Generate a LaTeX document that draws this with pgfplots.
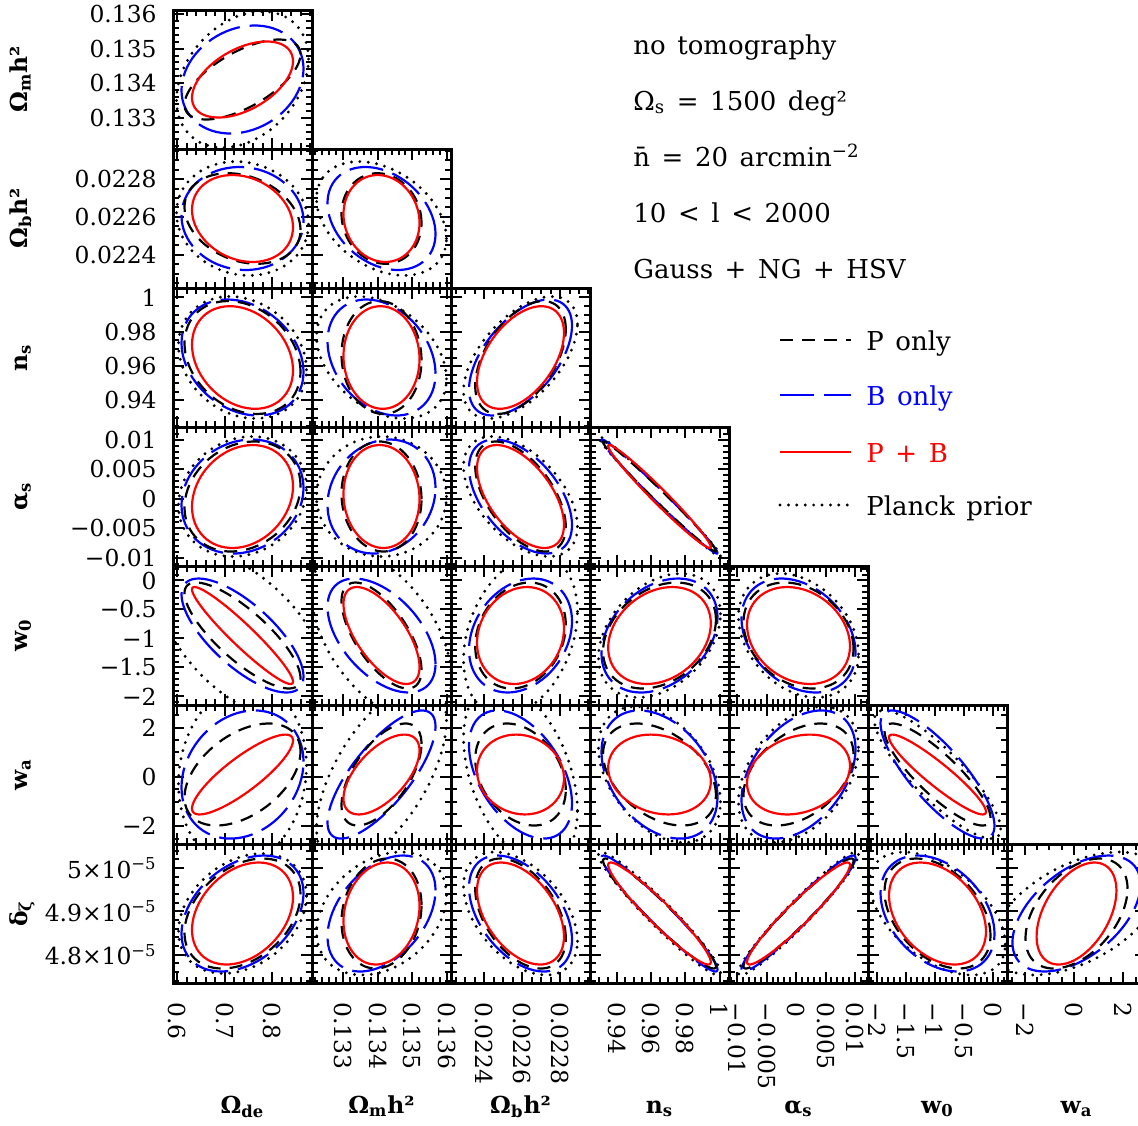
\documentclass[border=0pt]{standalone}
\usepackage{fontspec}
\setmainfont[WordSpace=1.4]{DejaVu Serif}
\usepackage{pgfplots}
\pgfplotsset{compat=1.18}

\newcommand\tl{\fontsize{11.7}{13}\selectfont}
\newcommand\lb{\fontsize{11.7}{13}\selectfont\bfseries}
\newcommand\tx{\fontsize{13}{15}\selectfont}

\tikzset{
  pK/.style={black, line width=1.1pt, dash pattern=on 6.5pt off 4.5pt},
  pB/.style={blue, line width=1.1pt, dash pattern=on 17pt off 5pt},
  pR/.style={red, line width=1.1pt},
  pD/.style={black, line width=1.6pt, line cap=round, dash pattern=on 0pt off 4.2pt},
  txt/.style={anchor=base west, inner sep=0pt, font=\tx},
}

% ellipse: style, centre x, centre y, half width, half height, correlation
\newcommand{\E}[6]{\addplot[#1] ({#2+#4*cos(x)},{#3+#5*((#6)*cos(x)+sqrt(1-(#6)^2)*sin(x))});}

\pgfplotsset{
  panel/.style={
    scale only axis, width=69.5pt, height=69.5pt, anchor=north west,
    axis line style={line width=1.5pt},
    tick align=inside, major tick length=5.5pt, minor tick length=3pt,
    tick style={line width=1pt, black},
    scaled ticks=false,
    xticklabels={}, yticklabels={},
    xticklabel style={rotate=-90, anchor=west, inner xsep=9.5pt, inner ysep=0pt, font=\tl},
    yticklabel style={anchor=east, inner xsep=8pt, inner ysep=0pt, font=\tl},
    domain=0:360, samples=73,
  },
  xOD/.style={xmin=0.5912, xmax=0.8838, xtick={0.6,0.7,0.8}, minor xtick={0.6,0.62,...,0.881}},
  xOM/.style={xmin=0.13211, xmax=0.13611, xtick={0.133,0.134,0.135,0.136},
    minor xtick={0.1322,0.1324,0.1326,0.1328,0.133,0.1332,0.1334,0.1336,0.1338,0.134,0.1342,0.1344,0.1346,0.1348,0.135,0.1352,0.1354,0.1356,0.1358,0.136}},
  yOM/.style={ymin=0.13211, ymax=0.13611, ytick={0.133,0.134,0.135,0.136},
    minor ytick={0.1322,0.1324,0.1326,0.1328,0.133,0.1332,0.1334,0.1336,0.1338,0.134,0.1342,0.1344,0.1346,0.1348,0.135,0.1352,0.1354,0.1356,0.1358,0.136}},
  xOB/.style={xmin=0.022226, xmax=0.022958, xtick={0.0224,0.0226,0.0228},
    minor xtick={0.02225,0.0223,0.02235,0.0224,0.02245,0.0225,0.02255,0.0226,0.02265,0.0227,0.02275,0.0228,0.02285,0.0229,0.02295}},
  yOB/.style={ymin=0.022226, ymax=0.022958, ytick={0.0224,0.0226,0.0228},
    minor ytick={0.02225,0.0223,0.02235,0.0224,0.02245,0.0225,0.02255,0.0226,0.02265,0.0227,0.02275,0.0228,0.02285,0.0229,0.02295}},
  xNS/.style={xmin=0.9245, xmax=1.0055, xtick={0.94,0.96,0.98,1}, minor xtick={0.925,0.93,...,1.0051}},
  yNS/.style={ymin=0.9245, ymax=1.0055, ytick={0.94,0.96,0.98,1}, minor ytick={0.925,0.93,...,1.0051}},
  xAS/.style={xmin=-0.0114, xmax=0.0122, xtick={-0.01,-0.005,0,0.005,0.01},
    minor xtick={-0.011,-0.01,-0.009,-0.008,-0.007,-0.006,-0.005,-0.004,-0.003,-0.002,-0.001,0,0.001,0.002,0.003,0.004,0.005,0.006,0.007,0.008,0.009,0.01,0.011,0.012}},
  yAS/.style={ymin=-0.0114, ymax=0.0122, ytick={-0.01,-0.005,0,0.005,0.01},
    minor ytick={-0.011,-0.01,-0.009,-0.008,-0.007,-0.006,-0.005,-0.004,-0.003,-0.002,-0.001,0,0.001,0.002,0.003,0.004,0.005,0.006,0.007,0.008,0.009,0.01,0.011,0.012}},
  xW0/.style={xmin=-2.15, xmax=0.25, xtick={-2,-1.5,-1,-0.5,0}, minor xtick={-2.1,-2,...,0.21}},
  yW0/.style={ymin=-2.15, ymax=0.25, ytick={-2,-1.5,-1,-0.5,0}, minor ytick={-2.1,-2,...,0.21}},
  xWA/.style={xmin=-2.72, xmax=2.92, xtick={-2,0,2}, minor xtick={-2.5,-2,...,2.51}},
  yWA/.style={ymin=-2.72, ymax=2.92, ytick={-2,0,2}, minor ytick={-2.5,-2,...,2.51}},
  yDZ/.style={ymin=4.735, ymax=5.055, ytick={4.8,4.9,5}, minor ytick={4.74,4.76,...,5.041}},
}

\begin{document}
\begin{tikzpicture}

% ---- row 1: Omega_m h^2
\begin{axis}[panel, at={(86.5pt,-5pt)}, xOD, yOM, yticklabels={0.133,0.134,0.135,0.136}]
\E{pD}{0.7375}{0.13411}{0.139}{0.00196}{0.3}
\E{pB}{0.7375}{0.13411}{0.1284}{0.001554}{0.2}
\E{pK}{0.7375}{0.13411}{0.1221}{0.001151}{0.63}
\E{pR}{0.7375}{0.13411}{0.1063}{0.001094}{0.48}
\end{axis}

% ---- row 2: Omega_b h^2
\begin{axis}[panel, at={(86.5pt,-74.5pt)}, xOD, yOB, yticklabels={0.0224,0.0226,0.0228}]
\E{pD}{0.7375}{0.022592}{0.139}{0.0003}{-0.1}
\E{pB}{0.7375}{0.022592}{0.1284}{0.0002712}{-0.05}
\E{pK}{0.7375}{0.022592}{0.1221}{0.0002385}{-0.25}
\E{pR}{0.7375}{0.022592}{0.1063}{0.000229}{-0.2}
\end{axis}
\begin{axis}[panel, at={(156pt,-74.5pt)}, xOM, yOB]
\E{pD}{0.13411}{0.022592}{0.00187}{0.0003}{-0.35}
\E{pB}{0.13411}{0.022592}{0.001554}{0.0002712}{-0.3}
\E{pK}{0.13411}{0.022592}{0.001151}{0.0002385}{-0.1}
\E{pR}{0.13411}{0.022592}{0.001094}{0.000229}{-0.1}
\end{axis}

% ---- row 3: n_s
\begin{axis}[panel, at={(86.5pt,-144pt)}, xOD, yNS, yticklabels={0.94,0.96,0.98,1}]
\E{pD}{0.7375}{0.965}{0.1347}{0.03555}{-0.2}
\E{pB}{0.7375}{0.965}{0.1284}{0.0338}{-0.25}
\E{pK}{0.7375}{0.965}{0.1221}{0.0329}{-0.25}
\E{pR}{0.7375}{0.965}{0.1063}{0.0299}{-0.25}
\end{axis}
\begin{axis}[panel, at={(156pt,-144pt)}, xOM, yNS]
\E{pD}{0.13411}{0.965}{0.00187}{0.03555}{-0.35}
\E{pB}{0.13411}{0.965}{0.001554}{0.0338}{-0.28}
\E{pK}{0.13411}{0.965}{0.001151}{0.0329}{-0.05}
\E{pR}{0.13411}{0.965}{0.001094}{0.0299}{-0.03}
\end{axis}
\begin{axis}[panel, at={(225.5pt,-144pt)}, xOB, yNS]
\E{pD}{0.022592}{0.965}{0.0003}{0.03555}{0.55}
\E{pB}{0.022592}{0.965}{0.0002712}{0.0338}{0.55}
\E{pK}{0.022592}{0.965}{0.0002385}{0.0329}{0.5}
\E{pR}{0.022592}{0.965}{0.000229}{0.0299}{0.48}
\end{axis}

% ---- row 4: alpha_s
\begin{axis}[panel, at={(86.5pt,-213.5pt)}, xOD, yAS, yticklabels={−0.01,−0.005,0,0.005,0.01}]
\E{pD}{0.7375}{0.0004}{0.1347}{0.01019}{0.15}
\E{pB}{0.7375}{0.0004}{0.1284}{0.00968}{0.15}
\E{pK}{0.7375}{0.0004}{0.1221}{0.00934}{0.2}
\E{pR}{0.7375}{0.0004}{0.1063}{0.00874}{0.2}
\end{axis}
\begin{axis}[panel, at={(156pt,-213.5pt)}, xOM, yAS]
\E{pD}{0.13411}{0.0004}{0.00187}{0.01019}{0}
\E{pB}{0.13411}{0.0004}{0.001554}{0.00968}{0.15}
\E{pK}{0.13411}{0.0004}{0.001151}{0.00934}{-0.05}
\E{pR}{0.13411}{0.0004}{0.001094}{0.00874}{-0.05}
\end{axis}
\begin{axis}[panel, at={(225.5pt,-213.5pt)}, xOB, yAS]
\E{pD}{0.022592}{0.0004}{0.0003}{0.01019}{-0.5}
\E{pB}{0.022592}{0.0004}{0.0002712}{0.00968}{-0.5}
\E{pK}{0.022592}{0.0004}{0.0002385}{0.00934}{-0.55}
\E{pR}{0.022592}{0.0004}{0.000229}{0.00874}{-0.55}
\end{axis}
\begin{axis}[panel, at={(295pt,-213.5pt)}, xNS, yAS]
\E{pD}{0.965}{0.0004}{0.03555}{0.01019}{-0.99}
\E{pB}{0.965}{0.0004}{0.0338}{0.00968}{-0.99}
\E{pK}{0.965}{0.0004}{0.0329}{0.00934}{-0.99}
\E{pR}{0.965}{0.0004}{0.0299}{0.00874}{-0.98}
\end{axis}

% ---- row 5: w_0
\begin{axis}[panel, at={(86.5pt,-283pt)}, xOD, yW0, yticklabels={−2,−1.5,−1,−0.5,0}]
\E{pD}{0.7375}{-0.95}{0.179}{1.47}{-0.55}
\E{pB}{0.7375}{-0.95}{0.1284}{0.984}{-0.72}
\E{pK}{0.7375}{-0.95}{0.1221}{0.915}{-0.8}
\E{pR}{0.7375}{-0.95}{0.1063}{0.837}{-0.95}
\end{axis}
\begin{axis}[panel, at={(156pt,-283pt)}, xOM, yW0]
\E{pD}{0.13411}{-0.95}{0.002015}{1.47}{-0.5}
\E{pB}{0.13411}{-0.95}{0.001554}{0.984}{-0.5}
\E{pK}{0.13411}{-0.95}{0.001151}{0.915}{-0.65}
\E{pR}{0.13411}{-0.95}{0.001094}{0.837}{-0.65}
\end{axis}
\begin{axis}[panel, at={(225.5pt,-283pt)}, xOB, yW0]
\E{pD}{0.022592}{-0.95}{0.0003}{1.38}{0.3}
\E{pB}{0.022592}{-0.95}{0.0002712}{0.984}{0.25}
\E{pK}{0.022592}{-0.95}{0.0002385}{0.915}{0.2}
\E{pR}{0.022592}{-0.95}{0.000229}{0.837}{0.15}
\end{axis}
\begin{axis}[panel, at={(295pt,-283pt)}, xNS, yW0]
\E{pD}{0.965}{-0.95}{0.03555}{1.07}{0.35}
\E{pB}{0.965}{-0.95}{0.0338}{0.984}{0.32}
\E{pK}{0.965}{-0.95}{0.0329}{0.915}{0.3}
\E{pR}{0.965}{-0.95}{0.0299}{0.837}{0.25}
\end{axis}
\begin{axis}[panel, at={(364.5pt,-283pt)}, xAS, yW0]
\E{pD}{0.0004}{-0.95}{0.01019}{1.07}{-0.3}
\E{pB}{0.0004}{-0.95}{0.00968}{0.984}{-0.3}
\E{pK}{0.0004}{-0.95}{0.00934}{0.915}{-0.25}
\E{pR}{0.0004}{-0.95}{0.00874}{0.837}{-0.22}
\end{axis}

% ---- row 6: w_a
\begin{axis}[panel, at={(86.5pt,-352.5pt)}, xOD, yWA, yticklabels={−2,0,2}]
\E{pD}{0.7375}{0.1}{0.1347}{3.65}{0.1}
\E{pB}{0.7375}{0.1}{0.1284}{2.6}{0.2}
\E{pK}{0.7375}{0.1}{0.1221}{2.07}{0.45}
\E{pR}{0.7375}{0.1}{0.1063}{1.62}{0.85}
\end{axis}
\begin{axis}[panel, at={(156pt,-352.5pt)}, xOM, yWA]
\E{pD}{0.13411}{0.1}{0.00187}{3.65}{0.6}
\E{pB}{0.13411}{0.1}{0.001554}{2.6}{0.75}
\E{pK}{0.13411}{0.1}{0.001151}{2.07}{0.6}
\E{pR}{0.13411}{0.1}{0.001094}{1.62}{0.6}
\end{axis}
\begin{axis}[panel, at={(225.5pt,-352.5pt)}, xOB, yWA]
\E{pD}{0.022592}{0.1}{0.0003}{3.65}{-0.4}
\E{pB}{0.022592}{0.1}{0.0002712}{2.6}{-0.45}
\E{pK}{0.022592}{0.1}{0.0002385}{2.07}{-0.3}
\E{pR}{0.022592}{0.1}{0.000229}{1.62}{-0.1}
\end{axis}
\begin{axis}[panel, at={(295pt,-352.5pt)}, xNS, yWA]
\E{pD}{0.965}{0.1}{0.03555}{2.76}{-0.4}
\E{pB}{0.965}{0.1}{0.0338}{2.6}{-0.35}
\E{pK}{0.965}{0.1}{0.0329}{2.07}{-0.4}
\E{pR}{0.965}{0.1}{0.0299}{1.62}{-0.17}
\end{axis}
\begin{axis}[panel, at={(364.5pt,-352.5pt)}, xAS, yWA]
\E{pD}{0.0004}{0.1}{0.01019}{2.76}{0.4}
\E{pB}{0.0004}{0.1}{0.00968}{2.6}{0.4}
\E{pK}{0.0004}{0.1}{0.00934}{2.07}{0.4}
\E{pR}{0.0004}{0.1}{0.00874}{1.62}{0.22}
\end{axis}
\begin{axis}[panel, at={(434pt,-352.5pt)}, xW0, yWA]
\E{pD}{-0.95}{0.1}{1.09}{2.6}{-0.85}
\E{pB}{-0.95}{0.1}{0.984}{2.6}{-0.8}
\E{pK}{-0.95}{0.1}{0.915}{2.07}{-0.85}
\E{pR}{-0.95}{0.1}{0.837}{1.62}{-0.93}
\end{axis}

% ---- row 7: delta_zeta (in units of 1e-5)
\begin{axis}[panel, at={(86.5pt,-422pt)}, xOD, yDZ, xticklabels={0.6,0.7,0.8},
  yticklabels={4.8×10\textsuperscript{−5},4.9×10\textsuperscript{−5},5×10\textsuperscript{−5}}]
\E{pD}{0.7375}{4.895}{0.1347}{0.138}{0.3}
\E{pB}{0.7375}{4.895}{0.1284}{0.1335}{0.35}
\E{pK}{0.7375}{4.895}{0.1221}{0.1266}{0.35}
\E{pR}{0.7375}{4.895}{0.1063}{0.1174}{0.32}
\end{axis}
\begin{axis}[panel, at={(156pt,-422pt)}, xOM, yDZ, xticklabels={0.133,0.134,0.135,0.136}]
\E{pD}{0.13411}{4.895}{0.00187}{0.1416}{0.3}
\E{pB}{0.13411}{4.895}{0.001554}{0.1335}{0.4}
\E{pK}{0.13411}{4.895}{0.001151}{0.1266}{0.15}
\E{pR}{0.13411}{4.895}{0.001094}{0.1174}{0.15}
\end{axis}
\begin{axis}[panel, at={(225.5pt,-422pt)}, xOB, yDZ, xticklabels={0.0224,0.0226,0.0228}]
\E{pD}{0.022592}{4.895}{0.0003}{0.1416}{-0.45}
\E{pB}{0.022592}{4.895}{0.0002712}{0.1335}{-0.45}
\E{pK}{0.022592}{4.895}{0.0002385}{0.1266}{-0.45}
\E{pR}{0.022592}{4.895}{0.000229}{0.1174}{-0.45}
\end{axis}
\begin{axis}[panel, at={(295pt,-422pt)}, xNS, yDZ, xticklabels={0.94,0.96,0.98,1}]
\E{pD}{0.965}{4.895}{0.03555}{0.1416}{-0.96}
\E{pB}{0.965}{4.895}{0.0338}{0.1335}{-0.965}
\E{pK}{0.965}{4.895}{0.0329}{0.1266}{-0.96}
\E{pR}{0.965}{4.895}{0.0299}{0.1174}{-0.95}
\end{axis}
\begin{axis}[panel, at={(364.5pt,-422pt)}, xAS, yDZ, xticklabels={−0.01,−0.005,0,0.005,0.01}]
\E{pD}{0.0004}{4.895}{0.01019}{0.1416}{0.96}
\E{pB}{0.0004}{4.895}{0.00968}{0.1335}{0.96}
\E{pK}{0.0004}{4.895}{0.00934}{0.1266}{0.96}
\E{pR}{0.0004}{4.895}{0.00874}{0.1174}{0.95}
\end{axis}
\begin{axis}[panel, at={(434pt,-422pt)}, xW0, yDZ, xticklabels={−2,−1.5,−1,−0.5,0}]
\E{pD}{-0.95}{4.895}{1.17}{0.1416}{-0.5}
\E{pB}{-0.95}{4.895}{0.984}{0.1335}{-0.35}
\E{pK}{-0.95}{4.895}{0.915}{0.1266}{-0.4}
\E{pR}{-0.95}{4.895}{0.837}{0.1174}{-0.35}
\end{axis}
\begin{axis}[panel, at={(503.5pt,-422pt)}, xWA, yDZ, xticklabels={−2,0,2}]
\E{pD}{0.1}{4.895}{3.45}{0.1416}{0.5}
\E{pB}{0.1}{4.895}{2.6}{0.1335}{0.5}
\E{pK}{0.1}{4.895}{2.07}{0.1266}{0.45}
\E{pR}{0.1}{4.895}{1.62}{0.1174}{0.45}
\end{axis}

% ---- row labels
\node[rotate=90, anchor=base, font=\lb] at (13.5pt,-39.75pt) {Ω\textsubscript{m}h²};
\node[rotate=90, anchor=base, font=\lb] at (13.5pt,-109.25pt) {Ω\textsubscript{b}h²};
\node[rotate=90, anchor=base, font=\lb] at (13.5pt,-178.75pt) {n\textsubscript{s}};
\node[rotate=90, anchor=base, font=\lb] at (13.5pt,-248.25pt) {α\textsubscript{s}};
\node[rotate=90, anchor=base, font=\lb] at (13.5pt,-317.75pt) {w\textsubscript{0}};
\node[rotate=90, anchor=base, font=\lb] at (13.5pt,-387.25pt) {w\textsubscript{a}};
\node[rotate=90, anchor=base, font=\lb] at (13.5pt,-456.75pt) {δ\textsubscript{ζ}};

% ---- column labels
\node[anchor=base, font=\lb] at (121.25pt,-556.5pt) {Ω\textsubscript{de}};
\node[anchor=base, font=\lb] at (190.75pt,-556.5pt) {Ω\textsubscript{m}h²};
\node[anchor=base, font=\lb] at (260.25pt,-556.5pt) {Ω\textsubscript{b}h²};
\node[anchor=base, font=\lb] at (329.75pt,-556.5pt) {n\textsubscript{s}};
\node[anchor=base, font=\lb] at (399.25pt,-556.5pt) {α\textsubscript{s}};
\node[anchor=base, font=\lb] at (468.75pt,-556.5pt) {w\textsubscript{0}};
\node[anchor=base, font=\lb] at (538.25pt,-556.5pt) {w\textsubscript{a}};

% ---- survey text
\node[txt] at (316.5pt,-27pt) {no tomography};
\node[txt] at (316.5pt,-55pt) {Ω\textsubscript{s} = 1500 deg²};
\node[txt] at (316.5pt,-83pt) {\=n = 20 arcmin\textsuperscript{−2}};
\node[txt] at (316.5pt,-111pt) {10 < l < 2000};
\node[txt] at (316.5pt,-139pt) {Gauss + NG + HSV};

% ---- legend
\draw[pK] (390pt,-170pt) -- (425.5pt,-170pt);
\node[txt] at (433pt,-175pt) {P only};
\draw[pB] (390pt,-197.5pt) -- (425.5pt,-197.5pt);
\node[txt, text=blue] at (433pt,-202.5pt) {B only};
\draw[pR] (390pt,-226pt) -- (425.5pt,-226pt);
\node[txt, text=red] at (433pt,-231pt) {P + B};
\draw[pD] (390pt,-252.5pt) -- (425.5pt,-252.5pt);
\node[txt] at (433pt,-257.5pt) {Planck prior};

\pgfresetboundingbox
\path[use as bounding box] (0pt,0pt) rectangle (569pt,-562.5pt);
\end{tikzpicture}
\end{document}
